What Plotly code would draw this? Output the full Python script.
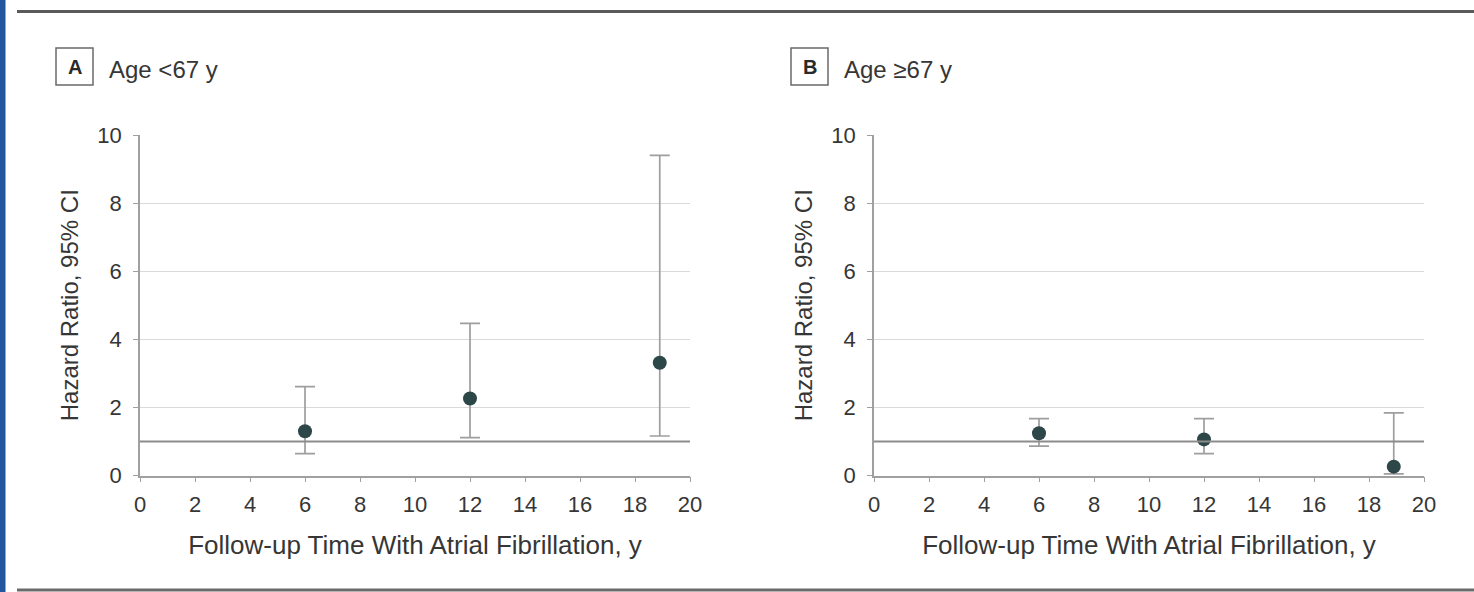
import plotly.graph_objects as go

# Hazard ratios with 95% CIs by follow-up time with atrial fibrillation
follow_up_years = [6, 12, 18.9]

hr_young = [1.30, 2.26, 3.31]
ci_low_young = [0.64, 1.11, 1.16]
ci_high_young = [2.61, 4.47, 9.40]

hr_old = [1.24, 1.06, 0.26]
ci_low_old = [0.86, 0.64, 0.05]
ci_high_old = [1.67, 1.67, 1.84]

panel_letters = ["A", "B"]
panel_titles = ["Age <67 y", "Age \u226567 y"]
x_title = "Follow-up Time With Atrial Fibrillation, y"
y_title = "Hazard Ratio, 95% CI"

W, H = 1474, 592
FONT = "Liberation Sans, Arial, sans-serif"
TEXT = "#363636"
DOT = "#2d4749"
ERR = "#9e9e9e"

fig = go.Figure()

series = [
    (hr_young, ci_low_young, ci_high_young, "x", "y"),
    (hr_old, ci_low_old, ci_high_old, "x2", "y2"),
]
for hr, lo, hi, xa, ya in series:
    fig.add_trace(go.Scatter(
        x=follow_up_years, y=hr, mode="markers",
        marker=dict(color=DOT, size=14),
        error_y=dict(type="data", symmetric=False,
                     array=[h - v for h, v in zip(hi, hr)],
                     arrayminus=[v - l for v, l in zip(hr, lo)],
                     color=ERR, thickness=1.7, width=10),
        xaxis=xa, yaxis=ya, showlegend=False, cliponaxis=False,
    ))

def px_x(p):
    return p / W

def px_y(p):
    return 1 - p / H

y_dom = [px_y(475.5), px_y(135)]
x_doms = [[px_x(140), px_x(690)], [px_x(874), px_x(1424)]]

axis_common = dict(
    showline=True, linecolor="#a0a0a0", linewidth=1.6,
    ticks="outside", ticklen=5, tickcolor="#a0a0a0", tickwidth=1.2,
    tickfont=dict(family=FONT, size=22, color=TEXT),
    zeroline=False,
)
for i, (xd, suffix) in enumerate(zip(x_doms, ["", "2"])):
    fig.layout["xaxis" + suffix] = dict(
        axis_common, domain=xd, range=[0, 20], tickvals=list(range(0, 21, 2)),
        showgrid=False, anchor="y" + suffix, ticklabelstandoff=3,
        title=dict(text=x_title, font=dict(family=FONT, size=26, color=TEXT),
                   standoff=20),
        automargin=False,
    )
    fig.layout["yaxis" + suffix] = dict(
        axis_common, domain=y_dom, range=[0, 10], tickvals=list(range(0, 11, 2)),
        showgrid=True, gridcolor="#dadada", gridwidth=1.2,
        anchor="x" + suffix, ticklabelstandoff=7,
        title=dict(text=y_title, font=dict(family=FONT, size=24, color=TEXT),
                   standoff=12),
        automargin=False,
    )

shapes = []
annotations = []
for i, suffix in enumerate(["", "2"]):
    # reference line at HR = 1
    shapes.append(dict(type="line", xref=f"x{suffix} domain", yref="y" + suffix,
                       x0=0, x1=1, y0=1, y1=1,
                       line=dict(color="#8c8c8c", width=2)))
    bx = [56, 791][i]
    shapes.append(dict(type="rect", xref="paper", yref="paper",
                       x0=px_x(bx), x1=px_x(bx + 37), y0=px_y(85), y1=px_y(48),
                       line=dict(color="#6a6a6a", width=1.5)))
    annotations.append(dict(text=f"<b>{panel_letters[i]}</b>", xref="paper", yref="paper",
                            x=px_x(bx + 18.5), y=px_y(66.5), showarrow=False,
                            xanchor="center", yanchor="middle",
                            font=dict(family=FONT, size=20, color="#2a2a2a")))
    annotations.append(dict(text=panel_titles[i], xref="paper", yref="paper",
                            x=px_x(bx + 51), y=px_y(69), showarrow=False,
                            xanchor="left", yanchor="middle",
                            font=dict(family=FONT, size=24, color=TEXT)))

# page frame: blue edge and horizontal rules
shapes.append(dict(type="rect", xref="paper", yref="paper", x0=0, x1=px_x(5.5),
                   y0=0, y1=1, line=dict(width=0), fillcolor="#22569e"))
shapes.append(dict(type="line", xref="paper", yref="paper", x0=px_x(17), x1=1,
                   y0=px_y(11.5), y1=px_y(11.5), line=dict(color="#5a5a5a", width=3)))
shapes.append(dict(type="line", xref="paper", yref="paper", x0=px_x(17), x1=1,
                   y0=px_y(590), y1=px_y(590), line=dict(color="#6a6a6a", width=3)))

fig.update_layout(
    width=W, height=H, margin=dict(l=0, r=0, t=0, b=0),
    paper_bgcolor="white", plot_bgcolor="white",
    shapes=shapes, annotations=annotations,
)

fig.write_html("out.html")
